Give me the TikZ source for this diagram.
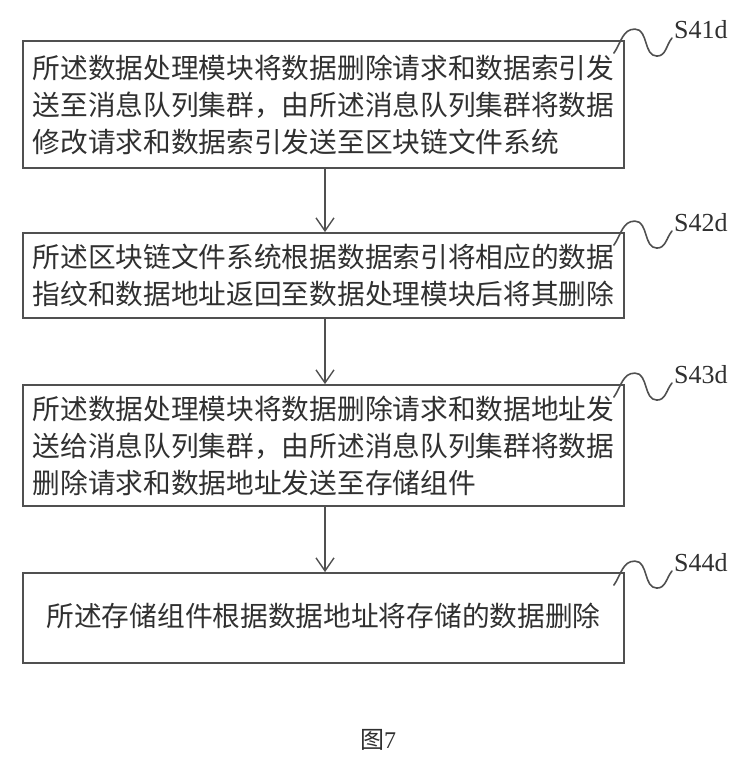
\documentclass[tikz,border=0pt]{standalone}
\usepackage{fontspec}
\setmainfont{Liberation Serif}
\newfontfamily\cjk{Noto Sans CJK SC}
\usetikzlibrary{arrows.meta,calc}
\definecolor{boxgray}{HTML}{505050}
\definecolor{txtgray}{HTML}{303030}
\begin{document}
\begin{tikzpicture}[x=1pt,y=1pt,
  stepbox/.style={draw=boxgray, line width=1.8pt, minimum width=601pt, align=left, inner sep=0pt,
    font=\cjk\fontsize{27.7}{37}\selectfont, text=txtgray},
  steplabel/.style={anchor=west, inner sep=0pt, font=\fontsize{26}{26}\selectfont, text=txtgray},
  flowarrow/.style={draw=boxgray, line width=1.4pt, -{Straight Barb[length=13pt,width=18pt,line width=1.4pt]}},
  leader/.style={draw=boxgray, line width=1.6pt, line cap=round}
]
\useasboundingbox (0,0) rectangle (750,-768);

\node[stepbox, minimum height=127pt] (b1) at (323.5,-104.5)
  {所述数据处理模块将数据删除请求和数据索引发\\送至消息队列集群，由所述消息队列集群将数据\\修改请求和数据索引发送至区块链文件系统};
\node[stepbox, minimum height=85pt] (b2) at (323.5,-275.5)
  {所述区块链文件系统根据数据索引将相应的数据\\指纹和数据地址返回至数据处理模块后将其删除};
\node[stepbox, minimum height=121pt] (b3) at (323.5,-445.5)
  {所述数据处理模块将数据删除请求和数据地址发\\送给消息队列集群，由所述消息队列集群将数据\\删除请求和数据地址发送至存储组件};
\node[stepbox, minimum height=90pt] (b4) at (323.5,-618)
  {\raisebox{6pt}{所述存储组件根据数据地址将存储的数据删除}};

\node[steplabel] (l1) at (674,-30) {S41d};
\node[steplabel] (l2) at (674,-223) {S42d};
\node[steplabel] (l3) at (674,-375) {S43d};
\node[steplabel] (l4) at (674,-563) {S44d};

\foreach \b/\l in {b1/l1,b2/l2,b3/l3,b4/l4}{
  \draw[leader] ($(\b.north east)+(-11,-13)$) to[out=55,in=180] ++(21,24)
     to[out=0,in=180] ++(22,-27) to[out=0,in=230] ($(\l.west)+(-2,-8)$);
}

\draw[flowarrow] ($(b1.south)+(1.5,0)$) -- ($(b2.north)+(1.5,0)$);
\draw[flowarrow] ($(b2.south)+(1.5,0)$) -- ($(b3.north)+(1.5,0)$);
\draw[flowarrow] ($(b3.south)+(1.5,0)$) -- ($(b4.north)+(1.5,0)$);

\node[text=txtgray, font=\fontsize{24}{24}\selectfont] (cap) at (378,-740) {{\cjk 图}7};
\end{tikzpicture}
\end{document}
